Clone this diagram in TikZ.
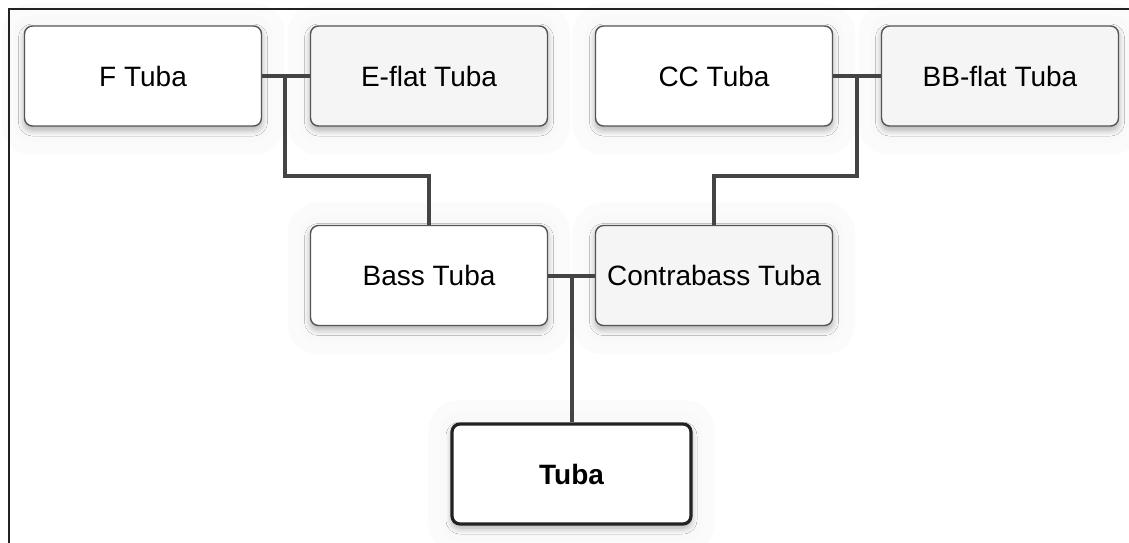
\documentclass[tikz,border=0pt]{standalone}
\usepackage{fontspec}
\setmainfont{Liberation Sans}
\usetikzlibrary{shadows.blur,backgrounds,calc}
\definecolor{linkgray}{RGB}{68,68,68}
\definecolor{edgegray}{RGB}{85,85,85}
\definecolor{softfill}{RGB}{245,245,245}
\definecolor{halo}{RGB}{251,251,251}
\definecolor{haloinner}{RGB}{249,249,249}
\definecolor{framecol}{RGB}{34,34,34}
\tikzset{
  box/.style={draw=edgegray, line width=1.4pt, rounded corners=8pt,
    minimum width=237pt, minimum height=100pt, inner sep=0pt,
    font=\fontsize{28}{33}\selectfont,
    blur shadow={shadow xshift=0pt, shadow yshift=-4pt, shadow blur radius=6pt,
      shadow blur steps=8, shadow opacity=30}},
  plainbox/.style={box, fill=white},
  greybox/.style={box, fill=softfill},
  rootbox/.style={box, fill=white, draw=framecol, line width=3.2pt,
    minimum width=239pt, minimum height=100pt, font=\fontsize{28}{33}\selectfont\bfseries},
  link/.style={draw=linkgray, line width=4pt},
  glow/.style={fill=halo, rounded corners=30pt},
  glowin/.style={fill=haloinner, rounded corners=20pt}
}
\begin{document}
\begin{tikzpicture}[x=1pt,y=-1pt]
\useasboundingbox (0,0) rectangle (1129,542);
% outer frame, open at the right and bottom edges
\draw[framecol, line width=2.4pt] (9,560) -- (9,9) -- (1150,9);

% instrument boxes
\node[plainbox] (f)      at (143,76)    {F Tuba};
\node[greybox]  (eflat)  at (429,76)    {E-flat Tuba};
\node[plainbox] (cc)     at (714,76)    {CC Tuba};
\node[greybox]  (bbflat) at (1000,76)   {BB-flat Tuba};
\node[plainbox] (bass)   at (429,275.5) {Bass Tuba};
\node[greybox]  (contra) at (714,275.5) {Contrabass Tuba};
\node[rootbox]  (tuba)   at (571.5,474) {Tuba};

% soft glow behind the boxes
\begin{scope}[on background layer]
  \foreach \n in {f,eflat,cc,bbflat,bass,contra,tuba}{
    \fill[glow] ($(\n.north west)+(-22,-22)$) rectangle ($(\n.south east)+(22,28)$);
    \fill[glowin] ($(\n.north west)+(-10,-10)$) rectangle ($(\n.south east)+(10,16)$);
  }
\end{scope}

% junction points on the horizontal links
\coordinate (j1) at ($(f.east)!0.47!(eflat.west)$);
\coordinate (j2) at ($(cc.east)!0.5!(bbflat.west)$);
\coordinate (j3) at (tuba.north |- bass.east);

% connectors
\draw[link] (f.east) -- (eflat.west);
\draw[link] (j1) -- ($(j1)+(0,100)$) -| (bass.north);
\draw[link] (cc.east) -- (bbflat.west);
\draw[link] (j2) -- ($(j2)+(0,100)$) -| (contra.north);
\draw[link] (bass.east) -- (contra.west);
\draw[link] (j3) -- (tuba.north);
\end{tikzpicture}
\end{document}
